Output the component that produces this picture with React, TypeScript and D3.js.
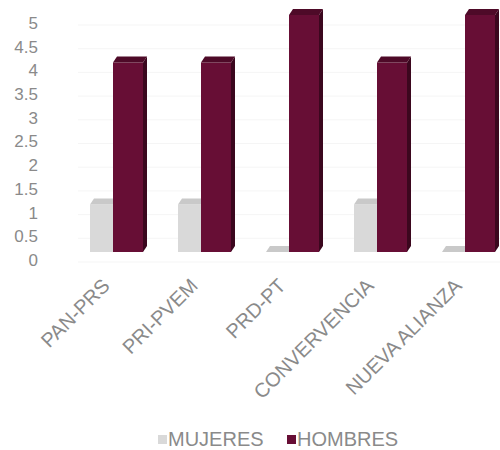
import React from "react";
import * as d3 from "d3";

// Seats per coalition, by gender
const categories = ["PAN-PRS", "PRI-PVEM", "PRD-PT", "CONVERVENCIA", "NUEVA ALIANZA"];
const mujeres = [1, 1, 0, 1, 0];
const hombres = [4, 4, 5, 4, 5];
const yTicks = [0, 0.5, 1, 1.5, 2, 2.5, 3, 3.5, 4, 4.5, 5];
const seriesNames = ["MUJERES", "HOMBRES"];

const W = 500;
const H = 450;
const DX = 4; // depth offset of the pseudo-3D columns
const DY = -6;

const palette = {
  MUJERES: { front: "#d9d9d9", top: "#c9c9c9", side: "#b5b5b5" },
  HOMBRES: { front: "#670e35", top: "#4e0a28", side: "#3b071e" },
};

const x = d3.scaleBand<string>().domain(categories).range([69, 509]).padding(0);
const y = d3.scaleLinear().domain([0, 5]).range([252, 15]);

function Column({ x0, w, v, colors }: { x0: number; w: number; v: number; colors: any }) {
  const yb = y(0);
  const yt = y(v);
  const x1 = x0 + w;
  const front = `M${x0},${yt}L${x1},${yt}L${x1},${yb}L${x0},${yb}Z`;
  const top = `M${x0},${yt}L${x0 + DX},${yt + DY}L${x1 + DX},${yt + DY}L${x1},${yt}Z`;
  const side = `M${x1},${yt}L${x1 + DX},${yt + DY}L${x1 + DX},${yb + DY}L${x1},${yb}Z`;
  return (
    <g>
      {v > 0 && <path d={side} fill={colors.side} />}
      {v > 0 && <path d={front} fill={colors.front} />}
      <path d={top} fill={colors.top} />
    </g>
  );
}

export default function App() {
  const font = "'Liberation Sans', Arial, sans-serif";
  return (
    <svg
      width={W}
      height={H}
      style={{ position: "absolute", left: 0, top: 0, background: "#ffffff" }}
      fontFamily={font}
    >
      {/* faint back-wall gridlines */}
      {yTicks.map((t) => (
        <line key={"g" + t} x1={78} x2={W} y1={y(t) + 10} y2={y(t) + 10} stroke="#f5f5f5" strokeWidth={1} />
      ))}
      {/* y tick labels */}
      {yTicks.map((t) => (
        <text
          key={"t" + t}
          x={38}
          y={y(t) + 8}
          dy="0.35em"
          textAnchor="end"
          fontSize={17}
          fill="#8a8a8a"
        >
          {String(t)}
        </text>
      ))}
      {/* columns */}
      {categories.map((c, i) => {
        const cx = (x(c) as number) + x.bandwidth() / 2;
        return (
          <g key={c}>
            <Column x0={cx - 23} w={23} v={mujeres[i]} colors={palette.MUJERES} />
            <Column x0={cx} w={30} v={hombres[i]} colors={palette.HOMBRES} />
          </g>
        );
      })}
      {/* category labels */}
      {categories.map((c) => {
        const cx = (x(c) as number) + x.bandwidth() / 2;
        const ax = cx - 2;
        const ay = 287;
        return (
          <text
            key={"l" + c}
            x={ax}
            y={ay}
            textAnchor="end"
            fontSize={20}
            fill="#8a8a8a"
            transform={`rotate(-45 ${ax} ${ay})`}
          >
            {c}
          </text>
        );
      })}
      {/* legend */}
      {seriesNames.map((s, i) => {
        const lx = i === 0 ? 158 : 287;
        return (
          <g key={s}>
            <rect x={lx} y={435} width={9} height={9} fill={(palette as any)[s].front} />
            <text x={lx + 10} y={446} fontSize={20} fill="#8a8a8a">
              {s}
            </text>
          </g>
        );
      })}
    </svg>
  );
}
